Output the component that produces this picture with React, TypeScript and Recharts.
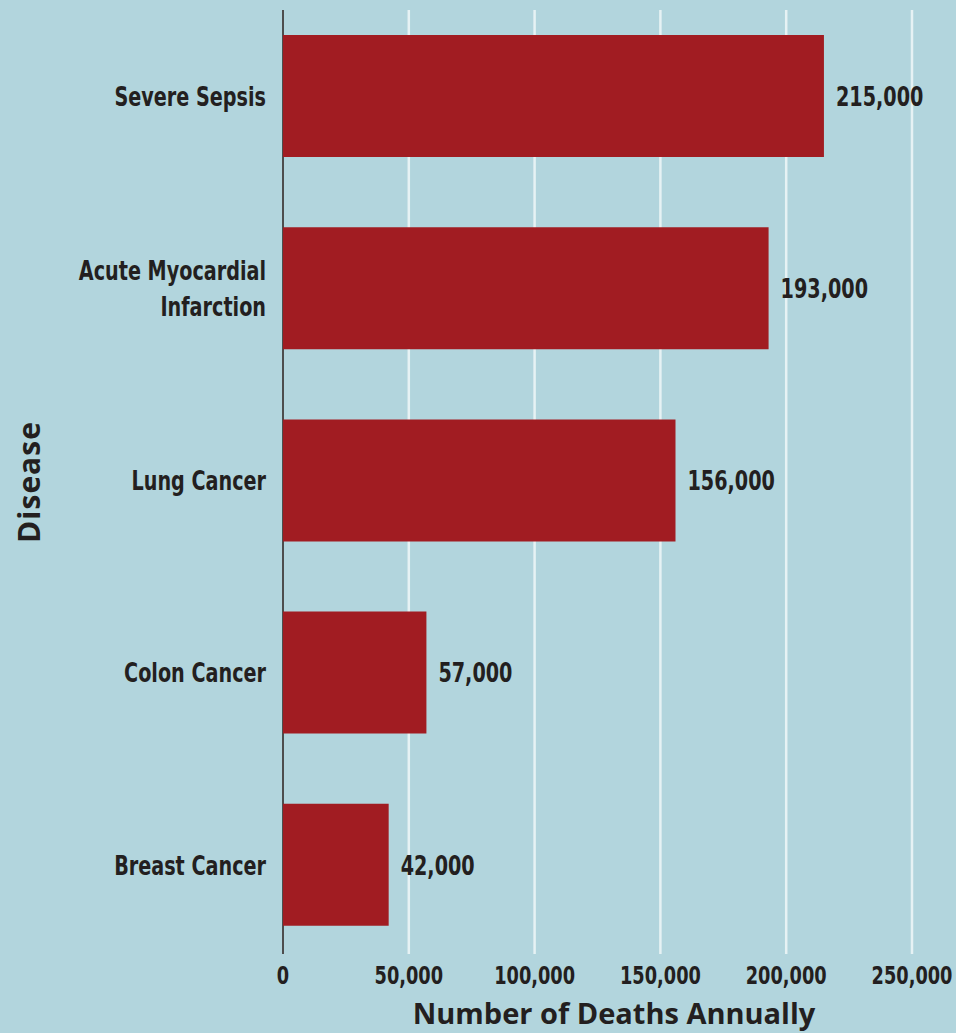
import { BarChart, Bar, XAxis, YAxis, CartesianGrid, LabelList } from 'recharts';

const diseases = ['Severe Sepsis', 'Acute Myocardial Infarction', 'Lung Cancer', 'Colon Cancer', 'Breast Cancer'];
const deaths = [215000, 193000, 156000, 57000, 42000];
const xTicks = [0, 50000, 100000, 150000, 200000, 250000];

const data = diseases.map((name, i) => ({ name, deaths: deaths[i] }));

const BG = '#b2d5dd';
const BAR = '#a11c22';
const INK = '#231f20';
const NARROW = '"Liberation Sans Narrow", "DejaVu Sans Condensed", sans-serif';
const TITLE = '"Open Sans", sans-serif';
const SQUEEZE = 0.79; // no condensed font installed, so squeeze horizontally

const fmt = (v: number) => v.toLocaleString('en-US');

// long names go on two lines, like the original
function splitName(name: string) {
  const words = name.split(' ');
  if (words.length <= 2) return [name];
  return [words.slice(0, 2).join(' '), words.slice(2).join(' ')];
}

function NarrowText({ x, y, anchor, size = 27, children }: any) {
  return (
    <text
      transform={`translate(${x},${y}) scale(${SQUEEZE},1)`}
      textAnchor={anchor}
      fill={INK}
      fontFamily={NARROW}
      fontWeight="bold"
      fontSize={size}
      dy="0.36em"
    >
      {children}
    </text>
  );
}

function DiseaseTick({ x, y, payload }: any) {
  const lines = splitName(payload.value);
  const lh = 36;
  const start = y - ((lines.length - 1) * lh) / 2;
  return (
    <g>
      {lines.map((l, i) => (
        <NarrowText key={i} x={x - 9} y={start + i * lh} anchor="end">
          {l}
        </NarrowText>
      ))}
    </g>
  );
}

function ValueTick({ x, y, payload }: any) {
  return (
    <NarrowText x={x} y={y + 12} anchor="middle" size={25}>
      {fmt(payload.value)}
    </NarrowText>
  );
}

function BarValue(props: any) {
  const { x, y, width, height, value } = props;
  return (
    <NarrowText x={x + width + 12} y={y + height / 2} anchor="start">
      {fmt(Number(value))}
    </NarrowText>
  );
}

function GridLine(props: any) {
  const { x1, y1, x2, y2, index } = props;
  const isAxis = index === 0;
  return (
    <line
      x1={x1}
      y1={y1}
      x2={x2}
      y2={y2}
      stroke={isAxis ? '#4d4d4d' : '#e6f2f4'}
      strokeWidth={isAxis ? 2 : 2.5}
    />
  );
}

export default function App() {
  return (
    <div style={{ position: 'absolute', left: 0, top: 0, width: 956, height: 1033, background: BG }}>
      <BarChart
        width={956}
        height={1033}
        data={data}
        layout="vertical"
        margin={{ top: 0, right: 44, bottom: 0, left: 0 }}
      >
        <CartesianGrid horizontal={false} vertical={GridLine} y={10} height={944} />
        <XAxis
          type="number"
          domain={[0, 250000]}
          ticks={xTicks}
          axisLine={false}
          tickLine={false}
          tickSize={0}
          height={72}
          tick={<ValueTick />}
          label={() => (
            <text
              x={614}
              y={1024}
              textAnchor="middle"
              fill={INK}
              fontFamily={TITLE}
              fontWeight="bold"
              fontSize={29}
            >
              Number of Deaths Annually
            </text>
          )}
        />
        <YAxis
          type="category"
          dataKey="name"
          width={283}
          axisLine={false}
          tickLine={false}
          tick={<DiseaseTick />}
          interval={0}
          label={() => (
            <text
              x={40}
              y={482}
              transform="rotate(-90 40 482)"
              textAnchor="middle"
              fill={INK}
              fontFamily={TITLE}
              fontWeight="bold"
              fontSize={30}
              letterSpacing={1}
            >
              Disease
            </text>
          )}
        />
        <Bar dataKey="deaths" fill={BAR} barSize={122} isAnimationActive={false}>
          <LabelList dataKey="deaths" content={<BarValue />} />
        </Bar>
      </BarChart>
    </div>
  );
}
